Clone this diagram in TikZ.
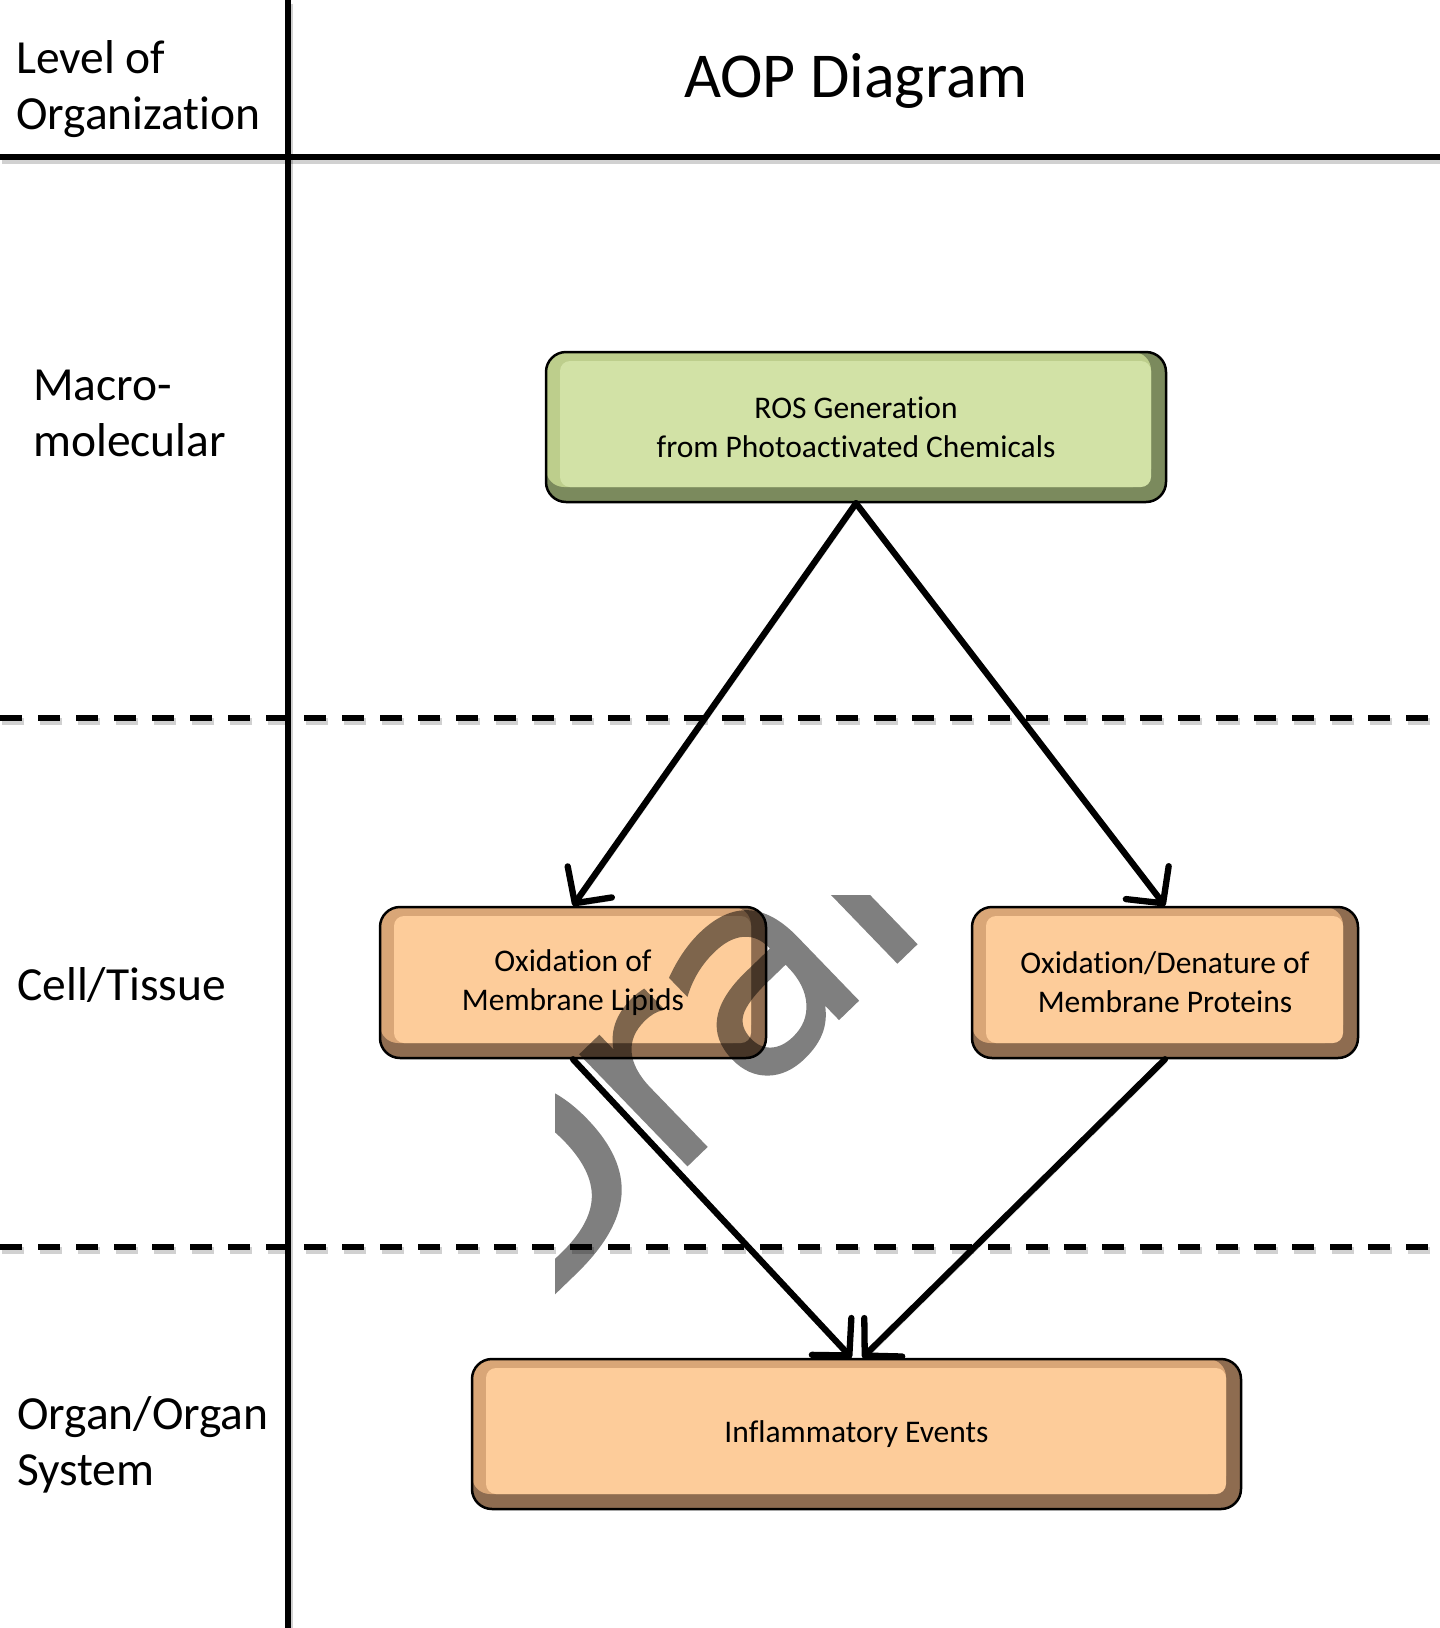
\documentclass[tikz,border=0pt]{standalone}
\usepackage{fontspec}
\setmainfont{Carlito}[Ligatures=NoCommon]
\newfontfamily\wmfont{DejaVu Sans}[FakeBold=1]
\usetikzlibrary{arrows.meta}
\definecolor{gface}{HTML}{D2E2A6}
\definecolor{glite}{HTML}{BDCE8C}
\definecolor{gdark}{HTML}{7B8A5D}
\definecolor{oface}{HTML}{FDCC9A}
\definecolor{olite}{HTML}{D9A677}
\definecolor{odark}{HTML}{8E6C50}
\begin{document}
\begin{tikzpicture}[x=1pt,y=-1pt,
  frameline/.style={line width=6.5pt, black},
  shadowline/.style={line width=7pt, black, opacity=0.18, transform canvas={shift={(1.5pt,-3.5pt)}}},
  dashpat/.style={dash pattern=on 22pt off 16pt},
  lbl/.style={font=\fontsize{47.5}{56}\selectfont, align=left, inner sep=0pt},
  boxtext/.style={font=\fontsize{31.5}{39}\selectfont, align=center},
  bevelbox/.style n args={3}{rectangle, rounded corners=20pt, draw=black, line width=2.5pt,
    boxtext, fill=#3,
    path picture={
      \fill[#2, rounded corners=18pt] ([yshift=15pt]path picture bounding box.south west)
        rectangle ([xshift=-15pt]path picture bounding box.north east);
      \fill[#1, rounded corners=10pt] ([xshift=14pt,yshift=15pt]path picture bounding box.south west)
        rectangle ([xshift=-15pt,yshift=-9pt]path picture bounding box.north east);
    }},
  gbox/.style={bevelbox={gface}{glite}{gdark}},
  obox/.style={bevelbox={oface}{olite}{odark}},
  arr/.style={line width=6.3pt, black, line cap=round,
    -{Straight Barb[round, length=26pt, width=54pt]},
    preaction={draw=black, opacity=0.15, transform canvas={shift={(2pt,-3pt)}}}},
  wmark/.style={font=\wmfont\fontsize{280}{280}\selectfont, text=black, inner sep=0pt}
]
\useasboundingbox (0,0) rectangle (1440,1628);
\fill[white] (0,0) rectangle (1440,1628);

% frame
\coordinate (vt) at (288,0);
\coordinate (vb) at (288,1628);
\coordinate (hl) at (0,157);
\coordinate (hr) at (1440,157);
\coordinate (d1l) at (0,718);
\coordinate (d1r) at (1440,718);
\coordinate (d2l) at (0,1247);
\coordinate (d2r) at (1440,1247);
\draw[shadowline] (vt) -- (vb);
\draw[shadowline] (hl) -- (hr);
\draw[shadowline, dashpat] (d1l) -- (d1r);
\draw[shadowline, dashpat] (d2l) -- (d2r);
\draw[frameline] (vt) -- (vb);
\draw[frameline] (hl) -- (hr);
\draw[frameline, dashpat] (d1l) -- (d1r);
\draw[frameline, dashpat] (d2l) -- (d2r);

% headings and level labels (anchor = baseline of last line)
\node[lbl, anchor=base west] (lvl) at (16,129) {Level of\\Organization};
\node[font=\fontsize{64}{70}\selectfont, inner sep=0pt, anchor=base] (title) at (856,97) {AOP Diagram};
\node[lbl, anchor=base west] (macro) at (33,456) {Macro-\\molecular};
\node[lbl, anchor=base west] (cell) at (17,1000) {Cell/Tissue};
\node[lbl, anchor=base west] (organ) at (17,1485) {Organ/Organ\\System};

% boxes
\node[gbox, minimum width=620pt, minimum height=150pt] (ros) at (856,427)
  {ROS Generation\\from Photoactivated Chemicals};
\node[obox, minimum width=386pt, minimum height=151pt] (lip) at (573,982.5)
  {Oxidation of\\Membrane Lipids};
\node[obox, minimum width=386pt, minimum height=151pt] (pro) at (1165,982.5)
  {Oxidation/Denature of\\Membrane Proteins};
\node[obox, minimum width=769pt, minimum height=150pt] (inf) at (856.5,1434)
  {Inflammatory Events};

% connectors
\draw[arr] (ros.south) -- (lip.north);
\draw[arr] (ros.south) -- (pro.north);
\draw[arr] (lip.south) -- ([xshift=-5pt]inf.north);
\draw[arr] (pro.south) -- ([xshift=6pt]inf.north);

% watermark
\begin{scope}
  \clip (555,895) rectangle (930,1330);
  \begin{scope}[transparency group, opacity=0.5]
    \node[wmark, rotate=44, anchor=base west] (wm) at (514,1332) {Draft};
  \end{scope}
\end{scope}
\end{tikzpicture}
\end{document}
